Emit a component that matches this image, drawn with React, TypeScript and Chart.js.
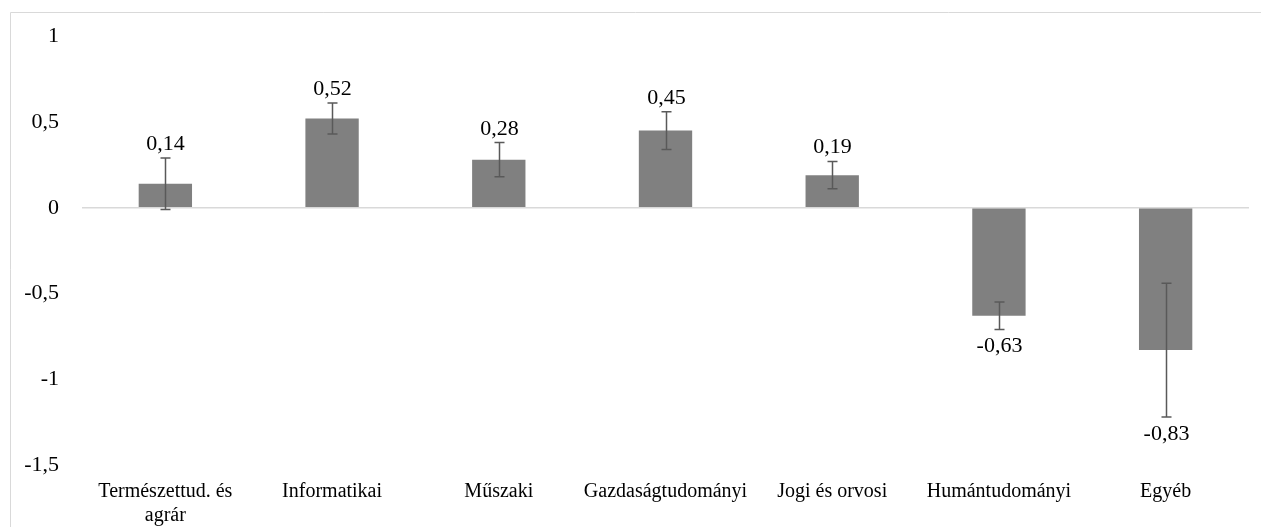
import { useEffect, useRef } from 'react';
import { Chart, registerables } from 'chart.js';

Chart.register(...registerables);

const categories: (string | string[])[] = [
  ['Természettud. és', 'agrár'],
  'Informatikai',
  'Műszaki',
  'Gazdaságtudományi',
  'Jogi és orvosi',
  'Humántudományi',
  'Egyéb',
];
const values = [0.14, 0.52, 0.28, 0.45, 0.19, -0.63, -0.83];
const errors = [0.15, 0.09, 0.1, 0.11, 0.08, 0.08, 0.39];
const yTicks = [1, 0.5, 0, -0.5, -1, -1.5];

const fmt = (v: number) => String(v).replace('.', ',');
const FONT = '"Liberation Serif", "Times New Roman", serif';

const framePlugin = {
  id: 'frame',
  beforeDraw(chart: any) {
    const ctx = chart.ctx;
    ctx.save();
    ctx.strokeStyle = '#d9d9d9';
    ctx.lineWidth = 1;
    ctx.beginPath();
    ctx.moveTo(10.5, chart.height);
    ctx.lineTo(10.5, 12.5);
    ctx.lineTo(chart.width, 12.5);
    ctx.stroke();
    ctx.restore();
  },
};

const errorPlugin = {
  id: 'errorBars',
  afterDatasetsDraw(chart: any) {
    const ctx = chart.ctx;
    const meta = chart.getDatasetMeta(0);
    const y = chart.scales.y;
    ctx.save();
    meta.data.forEach((bar: any, i: number) => {
      const v = values[i];
      const e = errors[i];
      const yHi = y.getPixelForValue(v + e);
      const yLo = y.getPixelForValue(v - e);
      const x = Math.round(bar.x) + 0.5;
      ctx.strokeStyle = '#595959';
      ctx.lineWidth = 1.5;
      ctx.beginPath();
      ctx.moveTo(x, yHi);
      ctx.lineTo(x, yLo);
      ctx.moveTo(x - 5, yHi);
      ctx.lineTo(x + 5, yHi);
      ctx.moveTo(x - 5, yLo);
      ctx.lineTo(x + 5, yLo);
      ctx.stroke();
      ctx.fillStyle = '#000';
      ctx.font = `22px ${FONT}`;
      ctx.textAlign = 'center';
      ctx.textBaseline = 'alphabetic';
      if (v >= 0) {
        ctx.fillText(fmt(v), x, yHi - 8);
      } else {
        ctx.fillText(fmt(v), x, yLo + 23);
      }
    });
    ctx.restore();
  },
};

export default function App() {
  const ref = useRef<HTMLCanvasElement>(null);
  useEffect(() => {
    if (!ref.current) return;
    const chart = new Chart(ref.current, {
      type: 'bar',
      data: {
        labels: categories,
        datasets: [
          {
            data: values,
            backgroundColor: '#808080',
            borderWidth: 0,
            barPercentage: 0.32,
            categoryPercentage: 1,
          },
        ],
      },
      options: {
        animation: false,
        responsive: true,
        maintainAspectRatio: false,
        layout: { padding: { left: 10, right: 12, top: 33, bottom: 0 } },
        plugins: {
          legend: { display: false },
          tooltip: { enabled: false },
        },
        scales: {
          x: {
            grid: { display: false },
            border: { display: false },
            ticks: {
              color: '#000',
              font: { family: FONT, size: 20 },
              padding: 7,
              maxRotation: 0,
              autoSkip: false,
            },
            afterFit: (s: any) => {
              s.height = 62;
            },
          },
          y: {
            min: -1.5,
            max: 1,
            border: { display: false },
            grid: {
              drawTicks: false,
              lineWidth: 1.5,
              color: (c: any) => (c.tick && c.tick.value === 0 ? '#d9d9d9' : 'rgba(0,0,0,0)'),
            },
            afterBuildTicks: (s: any) => {
              s.ticks = yTicks.map((v) => ({ value: v }));
            },
            ticks: {
              color: '#000',
              font: { family: FONT, size: 22 },
              padding: 23,
              callback: (v: any) => fmt(Number(v)),
            },
            afterFit: (s: any) => {
              s.width = 72;
            },
          },
        },
      },
      plugins: [framePlugin, errorPlugin],
    });
    return () => chart.destroy();
  }, []);
  return (
    <div style={{ position: 'fixed', left: 0, top: 0, width: 1261, height: 527 }}>
      <canvas ref={ref} />
    </div>
  );
}
